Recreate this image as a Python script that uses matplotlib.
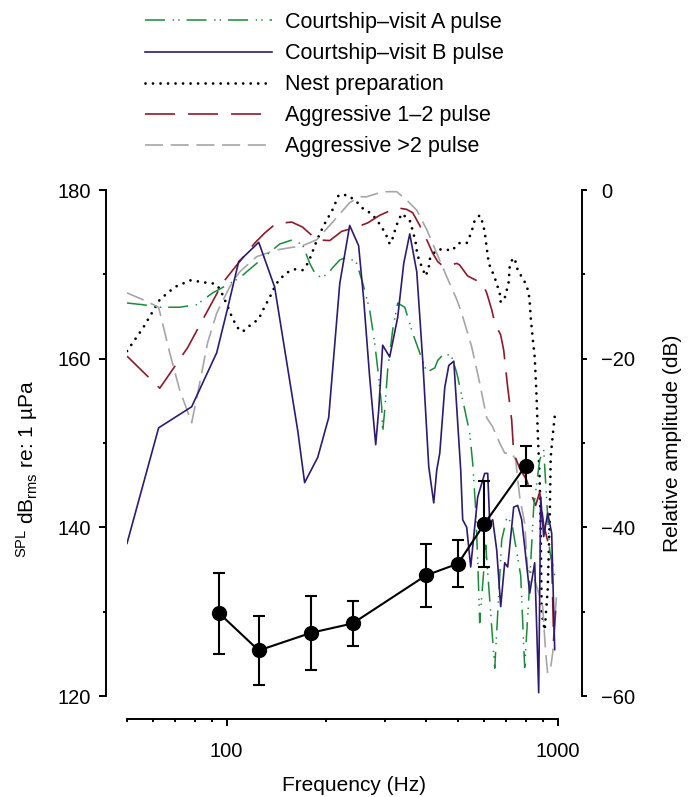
import matplotlib
matplotlib.use('Agg')
import matplotlib.pyplot as plt
from matplotlib.ticker import NullFormatter

plt.rcParams['font.family'] = ['Liberation Sans', 'DejaVu Sans']
plt.rcParams['mathtext.fontset'] = 'custom'
plt.rcParams['mathtext.rm'] = 'Liberation Sans'
plt.rcParams['mathtext.it'] = 'Liberation Sans:italic'
plt.rcParams['lines.scale_dashes'] = False

# Spectra, relative amplitude (dB) against frequency (Hz)
courtA_freq = [50, 55.8, 62.3, 72.1, 81.2, 90.7, 100, 109.5, 119.8, 134.9,
               144.6, 158.3, 169.6, 178.2, 187.1, 200.5, 209.1, 219.6, 232.1, 247.0,
               257.5, 270.4, 280.0, 287.9, 293.9, 296.0, 300.2, 306.5, 317.3, 328.6,
               345.1, 364.8, 383.0, 402.2, 425.2, 434.2, 455.9, 478.7, 495.7, 516.4,
               542.2, 553.6, 565.3, 573.2, 581.3, 606.1, 645.3, 677.4, 701.3, 726.1,
               773.0, 794.8, 817.2, 846.2, 882.2, 907.1, 945.8, 979.3]
courtA_db = [-13.4, -13.6, -13.9, -13.9, -13.6, -12.2, -11.3, -10.4, -9.1, -7.4,
             -6.4, -5.9, -6.5, -8.7, -10.3, -10.1, -9.2, -8.3, -7.9, -8.7,
             -11.0, -14.2, -18.1, -22.2, -25.7, -28.7, -26.1, -21.3, -16.6, -13.4,
             -13.9, -17.0, -19.3, -21.6, -21.1, -20.2, -19.3, -19.8, -21.7, -24.9,
             -28.8, -32.4, -37.9, -43.9, -51.3, -42.1, -56.7, -41.5, -38.9, -39.4,
             -45.7, -56.6, -48.6, -37.6, -32.0, -30.8, -42.7, -45.7]

courtB_freq = [50, 62.3, 78.4, 93.3, 100.7, 108.7, 125.0, 139.6, 163.9, 172.0,
               188.4, 203.3, 219.6, 235.3, 250.4, 259.4, 270.4, 282.0, 287.9, 296.0,
               310.8, 328.6, 342.7, 357.3, 375.2, 391.1, 407.8, 422.2, 431.2, 440.3,
               455.9, 468.8, 485.4, 509.3, 516.4, 531.0, 546.0, 573.2, 601.9, 614.6,
               623.2, 636.3, 654.3, 672.7, 691.7, 706.2, 721.1, 736.3, 757.0, 778.4,
               794.8, 823.0, 852.1, 876.1, 888.4, 907.1, 932.7, 959.0, 979.3]
courtB_db = [-41.9, -28.2, -25.7, -19.3, -14.0, -8.5, -6.2, -11.5, -28.5, -34.7,
             -31.7, -27.0, -11.1, -4.2, -6.6, -13.0, -22.2, -30.2, -26.1, -18.4,
             -19.8, -15.1, -8.7, -5.2, -9.7, -20.2, -32.8, -37.1, -33.2, -31.2,
             -23.4, -20.8, -20.3, -33.2, -39.1, -40.0, -44.7, -36.4, -33.6, -33.6,
             -39.5, -39.1, -42.7, -49.4, -44.2, -44.7, -41.1, -37.6, -37.4, -39.1,
             -42.3, -47.8, -44.2, -59.6, -36.4, -41.1, -38.3, -40.7, -54.5]

nest_freq = [50, 55.8, 62.8, 69.7, 77.9, 87.0, 92.0, 95.3, 97.9, 100.7,
             102.8, 105.7, 108.7, 111.8, 118.1, 125.0, 128.5, 132.1, 135.8, 139.6,
             143.6, 151.9, 160.5, 169.6, 174.5, 179.4, 187.1, 196.4, 209.1, 218.0,
             232.1, 247.0, 259.4, 274.2, 285.9, 293.9, 302.3, 310.8, 317.3, 321.8,
             328.6, 338.0, 357.3, 362.3, 367.4, 372.6, 375.2, 380.4, 391.1, 399.4,
             407.8, 410.6, 422.2, 431.2, 452.8, 478.7, 502.6, 531.0, 542.2, 553.6,
             561.4, 581.3, 593.5, 601.9, 618.9, 631.9, 645.3, 658.9, 668.1, 672.7,
             691.7, 701.3, 711.2, 716.1, 731.1, 741.4, 751.7, 762.3, 783.8, 805.9,
             817.2, 823.0, 828.7, 840.3, 852.1, 858.0, 864.0, 870.0, 876.1, 882.2,
             888.4, 894.6, 913.4, 932.7, 945.8, 952.4, 965.8, 979.3]
nest_db = [-19.1, -16.4, -13.0, -11.5, -10.7, -11.0, -11.1, -11.7, -12.7, -13.8,
           -14.7, -15.7, -16.5, -16.8, -16.0, -15.3, -14.3, -13.4, -12.5, -11.5,
           -10.7, -9.8, -9.4, -9.5, -8.9, -7.9, -6.0, -4.2, -2.3, -0.6,
           -0.6, -1.4, -2.3, -2.8, -3.7, -4.4, -5.2, -6.4, -5.7, -4.9,
           -3.8, -2.8, -3.6, -4.4, -5.3, -6.3, -7.2, -8.2, -9.4, -10.2,
           -9.2, -8.2, -7.5, -7.1, -7.0, -7.2, -6.3, -6.3, -5.5, -4.5,
           -3.6, -3.0, -3.9, -5.0, -8.7, -9.5, -10.4, -11.5, -12.2, -13.3,
           -12.8, -11.9, -10.9, -9.1, -8.1, -8.1, -9.1, -9.8, -10.4, -11.4,
           -12.2, -13.3, -15.1, -17.6, -19.8, -22.2, -24.9, -28.5, -31.4, -34.4,
           -40.3, -50.2, -52.2, -47.4, -39.1, -31.7, -29.1, -26.9]

aggr12_freq = [50, 60.6, 62.8, 76.2, 84.6, 97.3, 104.3, 121.5, 130.3, 140.6,
               157.2, 169.6, 187.1, 204.8, 222.6, 247.0, 266.7, 289.9, 326.3, 349.9,
               364.8, 383.0, 402.2, 419.3, 434.2, 449.6, 472.1, 495.7, 505.7, 534.7,
               573.2, 593.5, 610.3, 631.9, 645.3, 672.7, 686.9, 706.2, 726.1, 736.3,
               767.6, 805.9, 834.5, 858.0, 882.2, 907.1, 939.2, 959.0, 972.5, 986.2]
aggr12_db = [-19.7, -22.9, -23.5, -18.7, -15.4, -11.0, -9.5, -6.3, -5.1, -4.0,
             -3.8, -4.4, -5.9, -6.0, -4.9, -4.4, -3.9, -3.0, -2.1, -2.3,
             -2.7, -4.2, -5.9, -7.5, -8.5, -9.0, -8.9, -8.7, -8.9, -10.2,
             -10.8, -11.1, -12.2, -14.2, -15.7, -17.2, -19.0, -23.4, -27.3, -31.2,
             -33.0, -34.4, -36.2, -37.4, -35.8, -39.7, -42.1, -43.9, -53.4, -49.8]

aggr2p_freq = [50, 55.8, 62.3, 67.3, 72.1, 78.4, 82.9, 87.6, 93.3, 102.1,
               109.5, 123.2, 141.6, 169.6, 187.1, 209.1, 235.3, 252.2, 264.9, 296.0,
               326.3, 349.9, 375.2, 402.2, 431.2, 462.3, 495.7, 512.8, 549.8, 581.3,
               610.3, 636.3, 668.1, 691.7, 726.1, 746.5, 767.6, 794.8, 811.5, 840.3,
               870.0, 900.8, 919.8, 932.7, 952.4, 965.8, 979.3, 993.0]
aggr2p_db = [-12.2, -13.0, -13.9, -19.3, -23.7, -27.6, -22.9, -18.1, -14.6, -11.5,
             -9.7, -7.9, -7.1, -6.6, -5.9, -3.8, -1.5, -0.8, -0.8, -0.2,
             -0.2, -1.2, -2.4, -4.7, -7.5, -10.3, -13.0, -14.6, -18.6, -22.9,
             -27.0, -28.1, -30.0, -31.2, -31.2, -32.0, -36.4, -39.5, -45.1, -45.4,
             -47.4, -49.4, -54.9, -57.3, -56.6, -54.9, -51.0, -47.8]

# Source level (dB rms re 1 uPa), mean +/- s.d.
spl_freq = [95, 125, 180, 240, 400, 500, 600, 800]
spl_mean = [129.8, 125.4, 127.5, 128.6, 134.3, 135.7, 140.4, 147.3]
spl_sd = [4.8, 4.1, 4.4, 2.7, 3.7, 2.8, 5.1, 2.4]

labels = ['Courtship\u2013visit A pulse', 'Courtship\u2013visit B pulse',
          'Nest preparation', 'Aggressive 1\u20132 pulse', 'Aggressive >2 pulse']

fig = plt.figure(figsize=(6.91, 7.97), dpi=100)
ax = fig.add_axes([0.1838, 0.1267, 0.6233, 0.6349])
ax2 = ax.twinx()
ax.set_xscale('log')

h_nest, = ax2.plot(nest_freq, nest_db, color='black', lw=2.0,
                   dashes=(0.01, 5.4), dash_capstyle='round')
h_gray, = ax2.plot(aggr2p_freq, aggr2p_db, color='#a6a6a6', lw=1.2,
                   dashes=(13, 5.5))
h_red, = ax2.plot(aggr12_freq, aggr12_db, color='#8b1a2b', lw=1.2,
                  dashes=(21.6, 9.4))
h_green, = ax2.plot(courtA_freq, courtA_db, color='#1b8a3c', lw=1.1,
                    dashes=(14.4, 5.5, 1, 3, 1, 5))
h_blue, = ax2.plot(courtB_freq, courtB_db, color='#2e1a6e', lw=1.2)

ax.errorbar(spl_freq, spl_mean, yerr=spl_sd, color='black', lw=1.5,
            marker='o', ms=10, capsize=4.6, capthick=1.5, elinewidth=1.5,
            zorder=5, clip_on=False)

# put the SPL axes above the spectra
ax.set_zorder(ax2.get_zorder() + 1)
ax.patch.set_visible(False)

ax.set_xlim(50, 1000)
ax.set_ylim(120, 180)
ax2.set_ylim(-60, 0)

ax.set_xticks([100, 1000])
ax.set_xticklabels(['100', '1000'])
ax.set_xticks([50, 60, 70, 80, 90, 200, 300, 400, 500, 600, 700, 800, 900], minor=True)
ax.xaxis.set_minor_formatter(NullFormatter())
ax.set_yticks([120, 140, 160, 180])
ax.set_yticks([130, 150, 170], minor=True)
ax2.set_yticks([-60, -40, -20, 0])
ax2.set_yticks([-50, -30, -10], minor=True)

for spine in ['top', 'right']:
    ax.spines[spine].set_visible(False)
for spine in ['top', 'left', 'bottom']:
    ax2.spines[spine].set_visible(False)

ax.spines['left'].set_position(('outward', 15.1))
ax.spines['left'].set_bounds(120, 180)
ax.spines['bottom'].set_position(('outward', 16.8))
ax.spines['bottom'].set_bounds(50, 1000)
ax2.spines['right'].set_position(('outward', 17.8))
ax2.spines['right'].set_bounds(-60, 0)
for s in [ax.spines['left'], ax.spines['bottom'], ax2.spines['right']]:
    s.set_linewidth(1.4)

ax.tick_params(axis='x', which='major', length=5, width=1.4, pad=11, labelsize=14.5)
ax.tick_params(axis='x', which='minor', length=2.5, width=1.4)
ax.tick_params(axis='y', which='major', length=5, width=1.4, pad=6, labelsize=14.5)
ax.tick_params(axis='y', which='minor', length=2.5, width=1.4)
ax2.tick_params(axis='y', which='major', length=3.6, width=1.4, pad=10, labelsize=14.5)
ax2.tick_params(axis='y', which='minor', length=2.2, width=1.4)

fig.text(354 / 691, 1 - 791 / 797, 'Frequency (Hz)', ha='center', va='baseline', fontsize=15)
fig.text(27 / 691, 1 - 469 / 797, r'${}^{\mathrm{SPL}}$ dB$_{\mathrm{rms}}$ re: 1 µPa',
         rotation=90, ha='center', va='center', fontsize=15)
fig.text(673 / 691, 1 - 443 / 797, 'Relative amplitude (dB)', rotation=90,
         ha='center', va='center', fontsize=15)

fig.legend([h_green, h_blue, h_nest, h_red, h_gray], labels,
           loc='upper left', bbox_to_anchor=(145 / 691, 1 - 12 / 797),
           frameon=False, fontsize=15.5, handlelength=5.9, handletextpad=0.6,
           labelspacing=0.47, borderpad=0, borderaxespad=0)

fig.savefig('out.png', dpi=100)
